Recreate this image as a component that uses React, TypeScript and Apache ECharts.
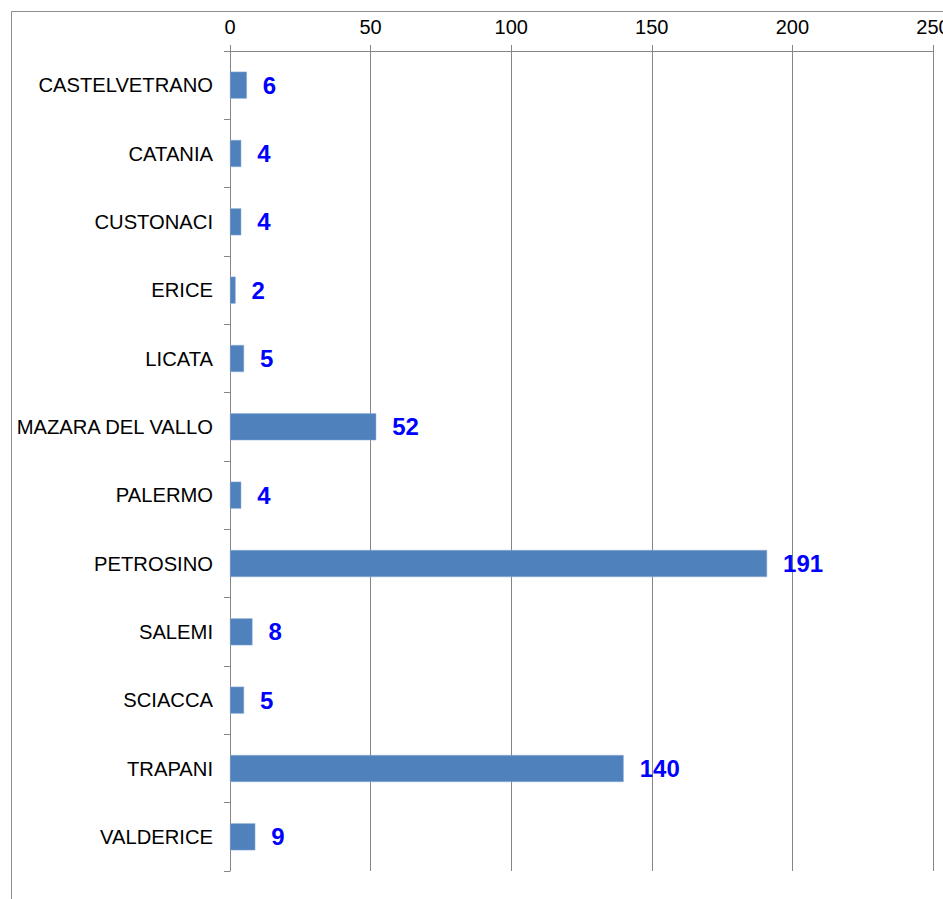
import React, { useEffect, useRef } from "react";
import * as echarts from "echarts";

const categories = [
  "CASTELVETRANO",
  "CATANIA",
  "CUSTONACI",
  "ERICE",
  "LICATA",
  "MAZARA DEL VALLO",
  "PALERMO",
  "PETROSINO",
  "SALEMI",
  "SCIACCA",
  "TRAPANI",
  "VALDERICE",
];
const values = [6, 4, 4, 2, 5, 52, 4, 191, 8, 5, 140, 9];
const axisMin = 0;
const axisMax = 250;
const axisStep = 50;

const FONT = "'Liberation Sans', Arial, sans-serif";

export default function App() {
  const ref = useRef<HTMLDivElement>(null);
  useEffect(() => {
    if (!ref.current) return;
    const chart = echarts.init(ref.current, undefined, { renderer: "svg" });
    chart.setOption({
      animation: false,
      backgroundColor: "#ffffff",
      textStyle: { fontFamily: FONT },
      grid: {
        left: 230,
        right: 10,
        top: 51,
        bottom: 28,
        containLabel: false,
        outerBoundsMode: "none",
      },
      graphic: [
        {
          type: "line",
          shape: { x1: 11.5, y1: 11.5, x2: 943, y2: 11.5 },
          style: { stroke: "#8c8c8c", lineWidth: 1 },
          silent: true,
        },
        {
          type: "line",
          shape: { x1: 11.5, y1: 11.5, x2: 11.5, y2: 899 },
          style: { stroke: "#8c8c8c", lineWidth: 1 },
          silent: true,
        },
      ],
      xAxis: {
        type: "value",
        position: "top",
        min: axisMin,
        max: axisMax,
        interval: axisStep,
        axisLine: { show: true, lineStyle: { color: "#868686", width: 1 } },
        axisTick: { show: true, length: 6, lineStyle: { color: "#868686" } },
        axisLabel: {
          color: "#000000",
          fontSize: 20,
          fontFamily: FONT,
          margin: 14,
        },
        splitLine: { show: true, lineStyle: { color: "#868686", width: 1 } },
      },
      yAxis: {
        type: "category",
        inverse: true,
        data: categories,
        axisLine: { show: true, lineStyle: { color: "#868686", width: 1 } },
        axisTick: { show: true, length: 6, lineStyle: { color: "#868686" } },
        axisLabel: {
          color: "#000000",
          fontSize: 20.2,
          fontFamily: FONT,
          margin: 17,
        },
        splitLine: { show: false },
      },
      series: [
        {
          type: "bar",
          data: values,
          barWidth: 27,
          itemStyle: {
            color: "#4F81BD",
            borderColor: "#8eaed6",
            borderWidth: 0.5,
          },
          label: {
            show: true,
            position: "right",
            distance: 16,
            color: "#0000FF",
            fontWeight: "bold",
            fontSize: 24,
            fontFamily: FONT,
          },
        },
      ],
    });
    return () => chart.dispose();
  }, []);
  return (
    <div
      ref={ref}
      style={{ position: "fixed", left: 0, top: 0, width: 943, height: 899 }}
    />
  );
}
